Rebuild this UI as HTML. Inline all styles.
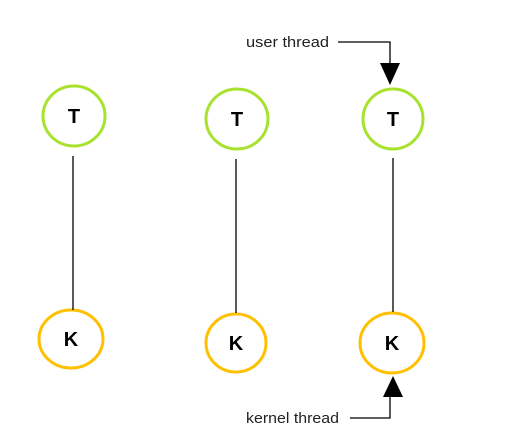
<!DOCTYPE html>
<html><head><meta charset="utf-8"><style>html,body{margin:0;padding:0;background:#fff}</style></head>
<body>
<svg width="513" height="440" xmlns="http://www.w3.org/2000/svg" style="display:block">
<g fill="#fff" stroke-width="3">
<ellipse cx="74" cy="116" rx="31" ry="30" stroke="#a6e22e"/>
<ellipse cx="237" cy="119" rx="31" ry="30" stroke="#a6e22e"/>
<ellipse cx="393" cy="119" rx="30" ry="30" stroke="#a6e22e"/>
<ellipse cx="71" cy="339" rx="32" ry="29" stroke="#ffc000"/>
<ellipse cx="236" cy="343" rx="30" ry="29" stroke="#ffc000"/>
<ellipse cx="392" cy="343" rx="32" ry="30" stroke="#ffc000"/>
</g>
<g stroke="#000" stroke-width="1.3">
<line x1="73" y1="156" x2="73" y2="310"/>
<line x1="236" y1="159" x2="236" y2="313"/>
<line x1="393" y1="158" x2="393" y2="312"/>
<polyline points="338,42 390,42 390,66" fill="none"/>
<polyline points="350,418 390,418 390,396" fill="none"/>
</g>
<polygon points="380,63 400,63 390,85" fill="#000"/>
<polygon points="383,397 403,397 393,376" fill="#000"/>
<g font-family="Liberation Sans, sans-serif" font-weight="bold" font-size="20" text-anchor="middle">
<text x="74" y="123">T</text><text x="237" y="126">T</text><text x="393" y="126">T</text>
<text x="71" y="346">K</text><text x="236" y="350">K</text><text x="392" y="350">K</text>
</g>
<g font-family="Liberation Sans, sans-serif" font-size="15" fill="#222">
<text x="246" y="47" textLength="83" lengthAdjust="spacingAndGlyphs">user thread</text>
<text x="246" y="423" textLength="93" lengthAdjust="spacingAndGlyphs">kernel thread</text>
</g>
</svg>
</body></html>
